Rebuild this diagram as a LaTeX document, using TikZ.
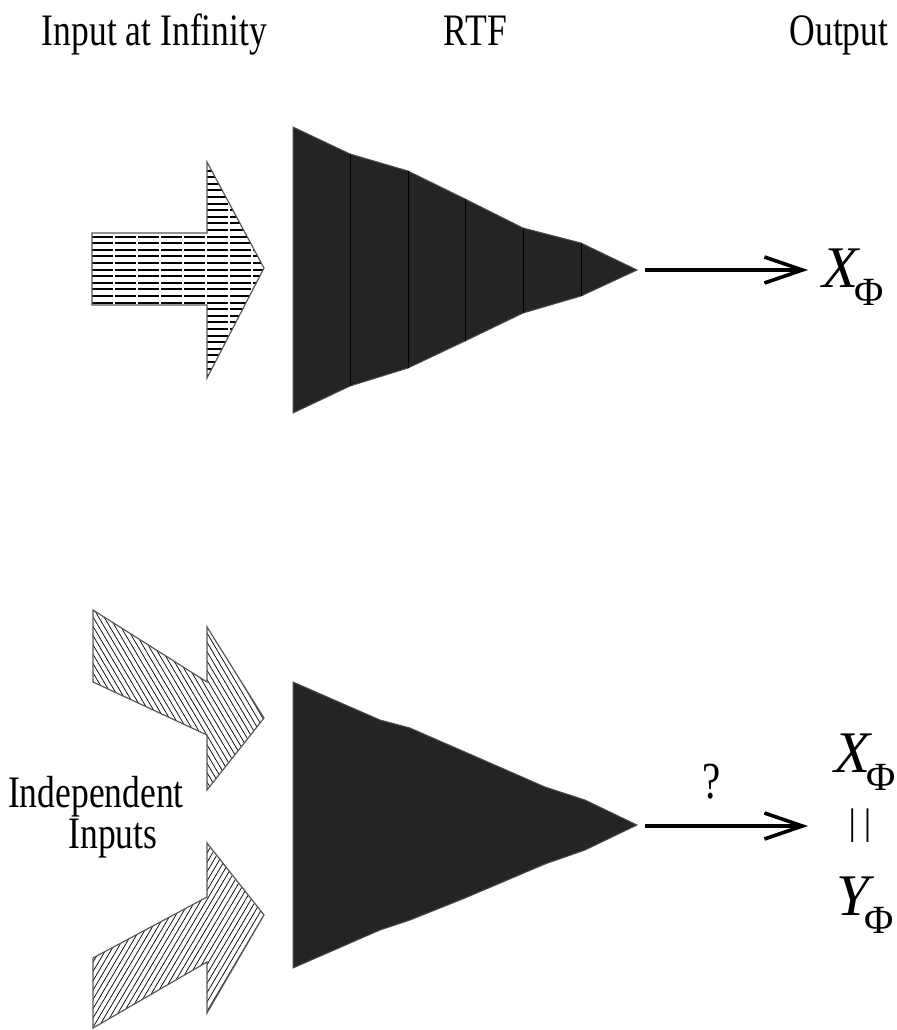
\documentclass[tikz,border=0pt]{standalone}
\usepackage{fontspec}
\setmainfont{Liberation Serif}
\usepackage{graphicx}
\usetikzlibrary{arrows.meta}

\newcommand{\cond}[1]{\scalebox{0.79}[1]{#1}}
\newcommand{\phisub}[2]{\textit{#1}\kern#2\raisebox{-9pt}{\fontsize{20}{24}\selectfont Φ}}

\begin{document}
\begin{tikzpicture}[
  x=0.5pt, y=-0.5pt,
  lbl/.style={anchor=base, inner sep=0pt, font=\fontsize{22.5}{27}\selectfont},
  sym/.style={anchor=base west, inner sep=0pt, font=\fontsize{29.5}{35}\selectfont},
  funnel/.style={fill=black!86, draw=black!70, line width=0.5pt},
  slice/.style={black, line width=0.45pt},
  outline/.style={draw=black!65, line width=0.6pt},
  hatch/.style={black, line width=0.35pt},
  outarr/.style={-{Straight Barb[length=19pt,width=13pt]}, line width=1.8pt}
]
\useasboundingbox (0,0) rectangle (896,1030);

% column titles
\node[lbl] (intitle) at (154.5,45) {\cond{Input at Infinity}};
\node[lbl] (rtftitle) at (475.5,45) {\cond{RTF}};
\node[lbl] (outtitle) at (839,45) {\cond{Output}};

% input at infinity
\draw[outline, fill=white, path picture={
    \foreach \y in {164,170.6,...,380} \draw[black, line width=1pt] (80,\y) -- (270,\y);
    \foreach \x in {114,137,...,260} \draw[white, line width=0.6pt] (\x,150) -- (\x,390);
  }] (92,233) -- (207,233) -- (207,162) -- (264,268) -- (207,378) -- (207,305) -- (92,305) -- cycle;

% sliced RTF
\draw[funnel] (293,127) -- (350,154) -- (408,171) -- (465,199) -- (523,228) -- (581,243) -- (637,270)
  -- (581,296) -- (523,313) -- (465,341) -- (408,368) -- (350,386) -- (293,413) -- cycle;
\foreach \x/\a/\b in {350/154/386, 408/171/368, 465/199/341, 523/228/313, 581/243/296}
  \draw[slice] (\x,\a) -- (\x,\b);

\coordinate (out1s) at (645,270);
\coordinate (out1e) at (808,270);
\draw[outarr] (out1s) -- (out1e);
\node[sym] (xphi1) at (822,287) {\phisub{X}{-3pt}};

% independent inputs
\draw[outline, fill=white, path picture={
    \foreach \a in {-60,-54.5,...,280} \draw[hatch] (\a,600) -- ++(130,220);
  }] (93,610) -- (207,682) -- (207,627) -- (264,718) -- (207,790) -- (207,735) -- (93,682) -- cycle;
\draw[outline, fill=white, path picture={
    \foreach \a in {-60,-54.5,...,280} \draw[hatch] (\a,1035) -- ++(130,-220);
  }] (93,958) -- (207,897) -- (207,843) -- (264,915) -- (207,1013) -- (207,962) -- (93,1028) -- cycle;

\node[lbl] (indep) at (96,807) {\cond{Independent}};
\node[lbl] (inputs) at (113,848) {\cond{Inputs}};

% RTF
\draw[funnel] (293,682) -- (380,720) -- (410,728) -- (465,752) -- (545,787) -- (585,800) -- (637,825)
  -- (585,850) -- (545,864) -- (465,898) -- (410,920) -- (380,930) -- (293,968) -- cycle;

\coordinate (out2s) at (645,826);
\coordinate (out2e) at (808,826);
\draw[outarr] (out2s) -- (out2e);
\node[lbl, font=\fontsize{26}{30}\selectfont] (query) at (712,798) {\cond{?}};

\node[sym] (xphi2) at (834,772) {\phisub{X}{-3pt}};
\node[inner sep=0pt, font=\fontsize{18.5}{22}\selectfont] (eqbars) at (860,825.5) {|\kern4pt|};
\node[sym] (yphi2) at (836,915) {\phisub{Y}{-5pt}};
\end{tikzpicture}
\end{document}
